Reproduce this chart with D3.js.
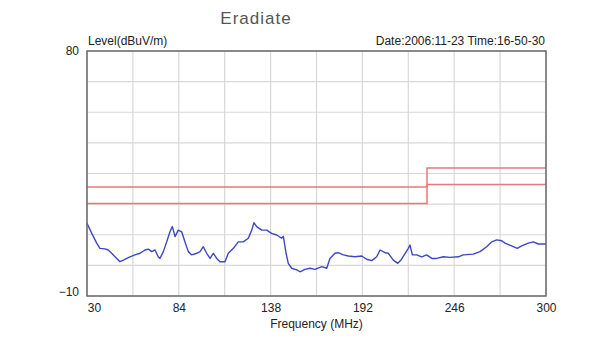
<!DOCTYPE html>
<html>
<head>
<meta charset="utf-8">
<script src="https://cdn.jsdelivr.net/npm/d3@7"></script>
<style>
body{margin:0;background:#fff;}
svg{display:block;font-family:"Liberation Sans",Arial,sans-serif;}
</style>
</head>
<body>
<svg id="chart" width="600" height="356"></svg>
<script>
var freq=[30,32.8,35.7,37.6,40.6,42.5,44.5,47.5,49.4,51.4,53.4,55.3,58.2,61.2,64.1,66.1,68.1,70,71.9,72.9,
74.9,76.9,78.8,80.2,81.8,83.7,85.7,87.6,89.6,91.6,94.5,96.5,98.4,100.4,102.4,104.3,106.3,108.2,111.2,113.1,
116.1,119,121.9,124.9,126.9,128.2,129.8,132.8,135.7,138.6,141.6,144.5,145.5,147.1,148.4,150.4,153.4,155.3,158.2,161.2,
164.1,168.1,171,172.9,175.9,177.8,180.8,183.7,187.6,191.6,194.5,197.5,200.4,202.4,205.3,207.2,210.2,212.8,214.7,216.6,
219,220,221.4,223.9,226.9,229.8,232.8,235.7,239.6,243.5,248.4,251.4,257.2,261.2,265.1,268.1,271,273.9,275.9,279.8,
283.1,285.7,289.6,292.5,295.5,300]
var level=[16.7,13,9.4,7.5,7.3,6.9,5.7,3.8,2.6,3.2,3.8,4.4,5.1,5.7,6.9,7.2,6.3,6.9,4.4,3.8,
6.3,9.9,13.6,15.5,11.8,14.2,13.6,9.9,6.3,5.1,5.7,6.3,8.1,5.7,3.8,5.7,3.8,2.6,2.6,5.7,
7.5,9.9,9.9,11.2,14.2,16.9,15.5,14.2,14.2,13,12.4,11.2,11.9,5.7,2,0.2,-0.4,-1.1,-0.2,0.2,
-0.2,0.8,0.2,3.8,5.7,5.9,5.1,4.7,4.4,4.7,3.5,3,4.4,6.9,5.9,5.7,3.2,2,3.2,5.1,
7.5,8.7,5.1,5.1,4.4,5.1,3.8,3.8,4.4,4.2,4.4,5.1,5.4,6.3,8.1,9.9,10.6,10.3,9.4,8.4,
7.5,8.4,9.4,9.9,9.1,9.1]

// limit and margin lines
var limitFreq=[30,230,230,300]
var limitLevel=[30,30,37,37]
var marginLevel=[24,24,31,31]

var xTicks=[30,84,138,192,246,300]
var yTicks=[-10,80]

var svg=d3.select("#chart")
var pLeft=87,pRight=546,pTop=51,pBottom=296

var xScale=d3.scaleLinear().domain([30,300]).range([pLeft,pRight])
var yScale=d3.scaleLinear().domain([-10,80]).range([pBottom,pTop])

// grid
svg.append("g")
.selectAll("line")
.data(d3.range(30,301,27))
.enter()
.append("line")
.attr("x1",d=>xScale(d)).attr("x2",d=>xScale(d))
.attr("y1",pTop).attr("y2",pBottom)
.attr("stroke","#d8d8d8").attr("stroke-width",1.2)

svg.append("g")
.selectAll("line")
.data(d3.range(-10,80.01,11.25))
.enter()
.append("line")
.attr("x1",pLeft).attr("x2",pRight)
.attr("y1",d=>yScale(d)).attr("y2",d=>yScale(d))
.attr("stroke","#d8d8d8").attr("stroke-width",1.2)

// limit lines
var line=d3.line().x(d=>xScale(d[0])).y(d=>yScale(d[1]))
svg.append("path")
.attr("d",line(limitFreq.map((f,i)=>[f,limitLevel[i]])))
.attr("fill","none").attr("stroke","#e47a7a").attr("stroke-width",1.5)
svg.append("path")
.attr("d",line(limitFreq.map((f,i)=>[f,marginLevel[i]])))
.attr("fill","none").attr("stroke","#e47a7a").attr("stroke-width",1.5)

// trace
svg.append("path")
.attr("d",line(freq.map((f,i)=>[f,level[i]])))
.attr("fill","none").attr("stroke","#3d47c4").attr("stroke-width",1.4)
.attr("stroke-linejoin","round")

// frame
svg.append("rect")
.attr("x",pLeft).attr("y",pTop)
.attr("width",pRight-pLeft).attr("height",pBottom-pTop)
.attr("fill","none").attr("stroke","#6a6a6a").attr("stroke-width",1.5)

// axes
var xAxis=d3.axisBottom(xScale).tickValues(xTicks).tickSize(0).tickPadding(7)
svg.append("g")
.attr("transform","translate(0,"+pBottom+")")
.call(xAxis)
.call(g=>g.select(".domain").remove())
.selectAll("text")
.attr("font-size",12).attr("fill","#222")
.attr("font-family","Liberation Sans, Arial, sans-serif")
.attr("dx",d=>d==30?7:0)

var yAxis=d3.axisLeft(yScale).tickValues(yTicks).tickSize(0).tickPadding(8)
svg.append("g")
.attr("transform","translate("+pLeft+",0)")
.call(yAxis)
.call(g=>g.select(".domain").remove())
.selectAll("text")
.attr("font-size",12).attr("fill","#222")
.attr("font-family","Liberation Sans, Arial, sans-serif")
.attr("y",d=>d==-10?-4:0)

// titles
svg.append("text")
.attr("x",256).attr("y",24)
.attr("text-anchor","middle")
.attr("font-size",17).attr("letter-spacing",1).attr("fill","#555")
.text("Eradiate")

svg.append("text")
.attr("x",pLeft+1).attr("y",45)
.attr("font-size",12).attr("fill","#222")
.text("Level(dBuV/m)")

svg.append("text")
.attr("x",pRight-1).attr("y",45)
.attr("text-anchor","end")
.attr("font-size",12).attr("fill","#222")
.text("Date:2006:11-23 Time:16-50-30")

svg.append("text")
.attr("x",(pLeft+pRight)/2).attr("y",328)
.attr("text-anchor","middle")
.attr("font-size",12).attr("fill","#222")
.text("Frequency (MHz)")
</script>
</body>
</html>
